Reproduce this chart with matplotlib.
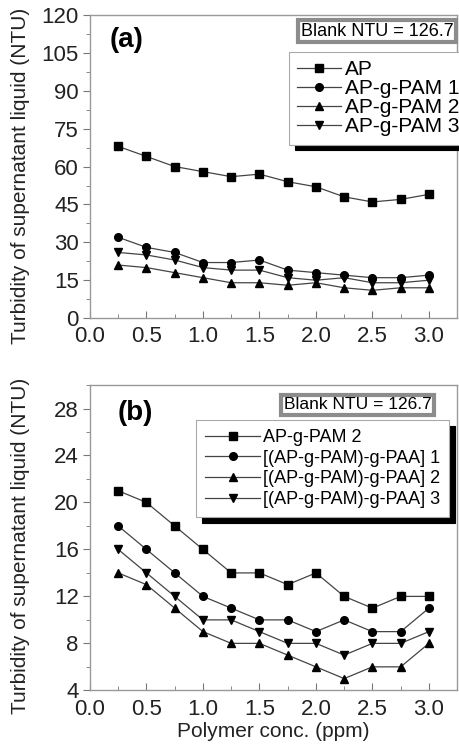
import numpy as np
import matplotlib.pyplot as plt
from matplotlib.ticker import MultipleLocator

plt.rcParams['font.family'] = ['Liberation Sans', 'DejaVu Sans']

conc = [0.25, 0.5, 0.75, 1.0, 1.25, 1.5, 1.75, 2.0, 2.25, 2.5, 2.75, 3.0]

# panel (a)
ap = [68, 64, 60, 58, 56, 57, 54, 52, 48, 46, 47, 49]
pam1 = [32, 28, 26, 22, 22, 23, 19, 18, 17, 16, 16, 17]
pam2 = [21, 20, 18, 16, 14, 14, 13, 14, 12, 11, 12, 12]
pam3 = [26, 25, 23, 20, 19, 19, 16, 15, 16, 14, 14, 15]
labels_a = ['AP', 'AP-g-PAM 1', 'AP-g-PAM 2', 'AP-g-PAM 3']

# panel (b)
paa1 = [18, 16, 14, 12, 11, 10, 10, 9, 10, 9, 9, 11]
paa2 = [14, 13, 11, 9, 8, 8, 7, 6, 5, 6, 6, 8]
paa3 = [16, 14, 12, 10, 10, 9, 8, 8, 7, 8, 8, 9]
labels_b = ['AP-g-PAM 2', '[(AP-g-PAM)-g-PAA] 1',
            '[(AP-g-PAM)-g-PAA] 2', '[(AP-g-PAM)-g-PAA] 3']

markers = ['s', 'o', '^', 'v']

fig = plt.figure(figsize=(4.59, 7.52), dpi=100)
ax1 = fig.add_axes([0.196, 0.577, 0.800, 0.403])
ax2 = fig.add_axes([0.196, 0.082, 0.800, 0.406])


def style(ax, ymin, ymax, major, minor, ylab_y):
    ax.set_xlim(0, 3.25)
    ax.set_ylim(ymin, ymax)
    ax.xaxis.set_major_locator(MultipleLocator(0.5))
    ax.xaxis.set_minor_locator(MultipleLocator(0.25))
    ax.yaxis.set_major_locator(MultipleLocator(major))
    ax.yaxis.set_minor_locator(MultipleLocator(minor))
    ax.xaxis.set_major_formatter(plt.FormatStrFormatter('%.1f'))
    for s in ax.spines.values():
        s.set_color('#999999')
        s.set_linewidth(1.0)
    ax.tick_params(axis='x', which='both', direction='in', colors='#777777',
                   labelcolor='#222222', labelsize=16, pad=6)
    ax.tick_params(axis='y', which='both', direction='out', colors='#777777',
                   labelcolor='#222222', labelsize=16, pad=3)
    ax.tick_params(which='major', length=5)
    ax.tick_params(which='minor', length=3)
    ax.set_ylabel('Turbidity of supernatant liquid (NTU)', fontsize=15,
                  color='#222222')
    ax.yaxis.set_label_coords(-0.163, ylab_y)


def draw(ax, series, labels, legend_pos, fsize, lspace, hlen, bpad):
    for ys, m, lab in zip(series, markers, labels):
        ax.plot(conc, ys, color='#444444', lw=0.9, marker=m, ms=5.5,
                mfc='black', mec='black', label=lab)
    leg = ax.legend(loc='upper left', bbox_to_anchor=legend_pos,
                    fontsize=fsize, frameon=True, fancybox=False,
                    shadow={'color': 'black', 'alpha': 1, 'ox': 4, 'oy': -4},
                    handlelength=hlen, handletextpad=0.2, labelspacing=lspace,
                    borderpad=bpad, borderaxespad=0)
    leg.get_frame().set_edgecolor('#aaaaaa')
    leg.get_frame().set_linewidth(0.8)
    leg.get_frame().set_alpha(1)


style(ax1, 0, 120, 15, 7.5, 0.47)
draw(ax1, [ap, pam1, pam2, pam3], labels_a, (0.542, 0.878), 15, 0.0, 2.1, 0.4)
ax1.text(0.054, 0.96, '(a)', transform=ax1.transAxes, fontsize=20,
         fontweight='bold', va='top', ha='left')
ax1.text(0.99, 0.975, 'Blank NTU = 126.7', transform=ax1.transAxes,
         fontsize=13, va='top', ha='right',
         bbox=dict(boxstyle='square,pad=0.15', fc='white', ec='#8c8c8c', lw=3))

style(ax2, 4, 30, 4, 2, 0.472)
draw(ax2, [pam2, paa1, paa2, paa3], labels_b, (0.29, 0.885), 13, 0.2, 3.0, 0.5)
ax2.text(0.074, 0.95, '(b)', transform=ax2.transAxes, fontsize=20,
         fontweight='bold', va='top', ha='left')
ax2.text(0.93, 0.96, 'Blank NTU = 126.7', transform=ax2.transAxes,
         fontsize=12.5, va='top', ha='right',
         bbox=dict(boxstyle='square,pad=0.15', fc='white', ec='#8c8c8c', lw=3))
ax2.set_xlabel('Polymer conc. (ppm)', fontsize=15, color='#222222', labelpad=2)

fig.savefig('out.png', dpi=100)
